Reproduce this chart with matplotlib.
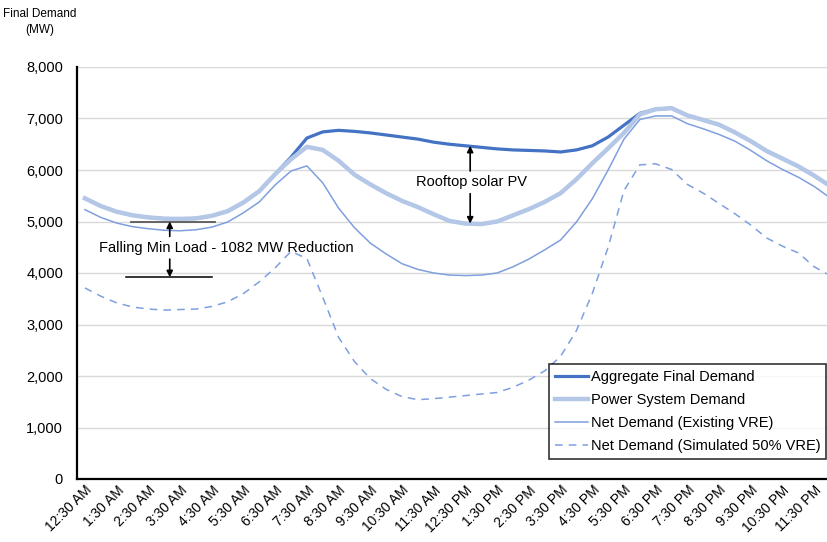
import matplotlib
matplotlib.use('Agg')
import matplotlib.pyplot as plt
from matplotlib.ticker import FuncFormatter

plt.rcParams['font.family'] = ['Liberation Sans', 'DejaVu Sans']

# half-hourly intervals from 12:30 AM to 12:00 AM
times = []
for h in range(24):
    hour = (h % 12) or 12
    ampm = 'AM' if h < 12 else 'PM'
    if h > 0:
        times.append('%d:00 %s' % (hour, ampm))
    times.append('%d:30 %s' % (hour, ampm))
times.append('12:00 AM')

aggregate = [5450, 5300, 5190, 5120, 5080, 5055, 5050, 5060, 5110, 5200,
             5370, 5590, 5920, 6250, 6620, 6740, 6770, 6750, 6720, 6680,
             6640, 6600, 6540, 6500, 6470, 6440, 6410, 6390, 6380, 6370,
             6350, 6390, 6470, 6640, 6870, 7100, 7180, 7200, 7060, 6970,
             6880, 6730, 6560, 6370, 6220, 6070, 5890, 5690]

power_system = [5450, 5300, 5190, 5120, 5080, 5055, 5050, 5060, 5110, 5200,
                5370, 5590, 5920, 6210, 6450, 6390, 6180, 5910, 5720, 5550,
                5400, 5280, 5140, 5010, 4960, 4950, 5000, 5120, 5240, 5380,
                5550, 5820, 6130, 6420, 6720, 7080, 7180, 7200, 7060, 6970,
                6880, 6730, 6560, 6370, 6220, 6070, 5890, 5690]

net_existing = [5230, 5080, 4970, 4900, 4860, 4830, 4820, 4840, 4890, 4990,
                5170, 5380, 5710, 5980, 6080, 5750, 5260, 4880, 4580, 4370,
                4180, 4070, 4000, 3960, 3950, 3960, 4000, 4120, 4270, 4450,
                4640, 4990, 5440, 6000, 6600, 6980, 7050, 7050, 6900, 6800,
                6690, 6560, 6380, 6180, 6010, 5860, 5680, 5460]

net_50pct = [3710, 3550, 3420, 3340, 3300, 3280, 3290, 3300, 3350, 3440,
             3600, 3830, 4100, 4420, 4280, 3530, 2750, 2280, 1950, 1740,
             1600, 1540, 1560, 1590, 1620, 1650, 1680, 1780, 1920, 2100,
             2380, 2880, 3600, 4500, 5600, 6100, 6120, 6010, 5720, 5550,
             5350, 5150, 4930, 4680, 4520, 4390, 4120, 3950]

min_load = 5000
min_load_drop = 1082

x = list(range(len(times)))

fig = plt.figure(figsize=(8.27, 5.42), dpi=100)
ax = fig.add_axes([77 / 827, 63 / 542, 761 / 827, 412 / 542])

ax.plot(x, aggregate, color='#4472C4', lw=2.3, label='Aggregate Final Demand', zorder=3)
ax.plot(x, power_system, color='#B4C7E7', lw=3.2, label='Power System Demand', zorder=4)
ax.plot(x, net_existing, color='#7F9FDF', lw=1.1, label='Net Demand (Existing VRE)', zorder=3)
ax.plot(x, net_50pct, color='#7F9FDF', lw=1.1, ls=(0, (5, 4)),
        label='Net Demand (Simulated 50% VRE)', zorder=3)

ax.set_xlim(-0.5, len(times) - 0.5)
ax.set_ylim(0, 8000)
ax.set_yticks(range(0, 8001, 1000))
ax.yaxis.set_major_formatter(FuncFormatter(lambda v, p: '{:,.0f}'.format(v)))
ax.set_xticks(x[::2])
ax.set_xticklabels(times[::2], rotation=45, ha='right', rotation_mode='anchor')
ax.tick_params(axis='both', length=0, labelsize=10.5)
ax.tick_params(axis='x', pad=3, labelsize=10)
ax.tick_params(axis='y', pad=10)
ax.grid(axis='y', color='#D9D9D9', lw=1)
ax.set_axisbelow(True)
for s in ['top', 'right']:
    ax.spines[s].set_visible(False)
for s in ['left', 'bottom']:
    ax.spines[s].set_color('black')
    ax.spines[s].set_linewidth(1.6)

fig.text(40 / 827, 1 - 8 / 542, 'Final Demand\n(MW)', ha='center', va='top',
         fontsize=8.5, linespacing=1.5)

# minimum load reduction markers
arrow = dict(arrowstyle='-|>', color='black', lw=1.2, mutation_scale=9,
             shrinkA=0, shrinkB=0)
ax.plot([2.9, 8.2], [min_load, min_load], color='#595959', lw=1.3, zorder=5)
ax.plot([2.6, 8.0], [min_load - min_load_drop] * 2, color='black', lw=1.1, zorder=5)
ax.annotate('', xy=(5.35, min_load), xytext=(5.35, 4710), arrowprops=arrow, zorder=6)
ax.annotate('', xy=(5.35, min_load - min_load_drop), xytext=(5.35, 4270),
            arrowprops=arrow, zorder=6)
ax.text(8.9, 4490, 'Falling Min Load - 1082 MW Reduction', ha='center', va='center',
        fontsize=10.5, zorder=6)

# rooftop solar gap at midday
ax.annotate('', xy=(24.3, aggregate[24]), xytext=(24.3, 5980), arrowprops=arrow, zorder=6)
ax.annotate('', xy=(24.3, power_system[24]), xytext=(24.3, 5540), arrowprops=arrow, zorder=6)
ax.text(24.4, 5760, 'Rooftop solar PV', ha='center', va='center', fontsize=10.5, zorder=6)

leg = ax.legend(loc='lower right', bbox_to_anchor=(826 / 827, 83 / 542),
                bbox_transform=fig.transFigure, fontsize=10.5, frameon=True,
                fancybox=False, edgecolor='black', borderaxespad=0,
                handlelength=2.3, handletextpad=0.15, labelspacing=0.62,
                borderpad=0.4)
leg.get_frame().set_linewidth(1.2)
leg.set_zorder(10)

fig.savefig('out.png', dpi=100)
